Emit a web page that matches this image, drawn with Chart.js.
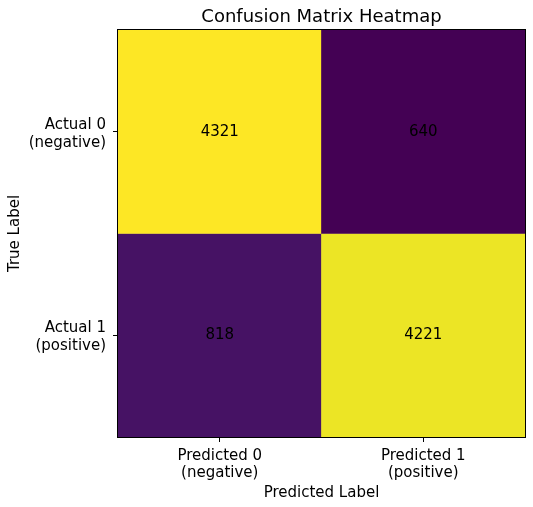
<!DOCTYPE html>
<html>
<head>
<meta charset="utf-8">
<script src="https://cdn.jsdelivr.net/npm/chart.js@4/dist/chart.umd.min.js"></script>
<style>
  html, body { margin: 0; padding: 0; background: #fff; }
  #wrap { width: 533px; height: 507px; }
</style>
</head>
<body>
<div id="wrap"><canvas id="cmChart" width="533" height="507"></canvas></div>
<script>
// confusion matrix values, rows = actual, columns = predicted
const predictedLabels = [['Predicted 0', '(negative)'], ['Predicted 1', '(positive)']];
const actualLabels = [['Actual 0', '(negative)'], ['Actual 1', '(positive)']];
const rowActual0 = [4321, 640];
const rowActual1 = [818, 4221];

const chartTitle = 'Confusion Matrix Heatmap';
const xTitle = 'Predicted Label';
const yTitle = 'True Label';

// viridis colormap stops
const viridis = ['#440154', '#482475', '#414487', '#355f8d', '#2a788e', '#21918c',
                 '#22a884', '#44bf70', '#7ad151', '#bddf26', '#fde725'];

const allValues = rowActual0.concat(rowActual1);
const vMin = Math.min(...allValues);
const vMax = Math.max(...allValues);

function hexToRgb(h) {
    return [parseInt(h.slice(1, 3), 16), parseInt(h.slice(3, 5), 16), parseInt(h.slice(5, 7), 16)];
}

function colorFor(v) {
    const t = (v - vMin) / (vMax - vMin);
    const pos = t * (viridis.length - 1);
    const i = Math.min(Math.floor(pos), viridis.length - 2);
    const f = pos - i;
    const a = hexToRgb(viridis[i]);
    const b = hexToRgb(viridis[i + 1]);
    const c = a.map((x, k) => Math.round(x + (b[k] - x) * f));
    return 'rgb(' + c.join(',') + ')';
}

const FONT = "'DejaVu Sans', sans-serif";

const cellPlugin = {
    id: 'cellPlugin',
    afterDatasetsDraw(chart) {
        const ctx = chart.ctx;
        const area = chart.chartArea;
        ctx.save();
        // cell values
        ctx.fillStyle = '#000';
        ctx.font = '15px ' + FONT;
        ctx.textAlign = 'center';
        ctx.textBaseline = 'middle';
        chart.data.datasets.forEach((ds, di) => {
            const meta = chart.getDatasetMeta(di);
            meta.data.forEach((bar, j) => {
                const p = bar.getProps(['x', 'y', 'base'], true);
                ctx.fillText(String(ds.values[j]), p.x, (p.y + p.base) / 2);
            });
        });
        // frame
        ctx.strokeStyle = '#000';
        ctx.lineWidth = 1;
        ctx.strokeRect(Math.round(area.left) - 0.5, Math.round(area.top) - 0.5,
                       Math.round(area.right - area.left) + 1, Math.round(area.bottom - area.top) + 1);
        // title
        ctx.font = '18px ' + FONT;
        ctx.textBaseline = 'alphabetic';
        ctx.fillText(chartTitle, (area.left + area.right) / 2, 22);
        ctx.restore();
    }
};

const ctx = document.getElementById('cmChart').getContext('2d');
const cmChart = new Chart(ctx, {
    type: 'bar',
    data: {
        labels: predictedLabels,
        datasets: [{
            label: 'Actual 0',
            values: rowActual0,
            data: rowActual0.map(() => [0, 1]),
            backgroundColor: rowActual0.map(colorFor),
            borderWidth: 0,
            borderSkipped: false,
            barPercentage: 1,
            categoryPercentage: 1
        }, {
            label: 'Actual 1',
            values: rowActual1,
            data: rowActual1.map(() => [1, 2]),
            backgroundColor: rowActual1.map(colorFor),
            borderWidth: 0,
            borderSkipped: false,
            barPercentage: 1,
            categoryPercentage: 1
        }]
    },
    options: {
        responsive: false,
        animation: false,
        grouped: false,
        layout: { padding: { top: 30, right: 8, left: 0, bottom: 0 } },
        plugins: {
            legend: { display: false },
            tooltip: { enabled: false }
        },
        scales: {
            x: {
                type: 'category',
                offset: true,
                border: { display: false },
                grid: { offset: false, drawOnChartArea: false, tickLength: 5, tickColor: '#000', tickWidth: 1 },
                ticks: {
                    color: '#000', padding: 5, autoSkip: false, maxRotation: 0,
                    font: { family: FONT, size: 15, lineHeight: 1.17 }
                },
                title: {
                    display: true, text: xTitle, color: '#000',
                    font: { family: FONT, size: 15, lineHeight: 1.2 },
                    padding: { top: 0, bottom: 5 }
                },
                afterFit(scale) { scale.height = 70; }
            },
            y: {
                type: 'linear',
                min: 0,
                max: 2,
                reverse: true,
                border: { display: false },
                grid: { drawOnChartArea: false, tickLength: 5, tickColor: '#000', tickWidth: 1 },
                afterBuildTicks(scale) {
                    scale.ticks = [{ value: 0.5 }, { value: 1.5 }];
                },
                ticks: {
                    color: '#000', padding: 7, autoSkip: false, labelOffset: 2,
                    font: { family: FONT, size: 15, lineHeight: 1.2 },
                    callback: (value, index) => actualLabels[index]
                },
                title: {
                    display: true, text: yTitle, color: '#000',
                    font: { family: FONT, size: 15, lineHeight: 1.2 },
                    padding: { top: 6, bottom: 0 }
                },
                afterFit(scale) { scale.width = 118; }
            }
        }
    },
    plugins: [cellPlugin]
});
</script>
</body>
</html>
